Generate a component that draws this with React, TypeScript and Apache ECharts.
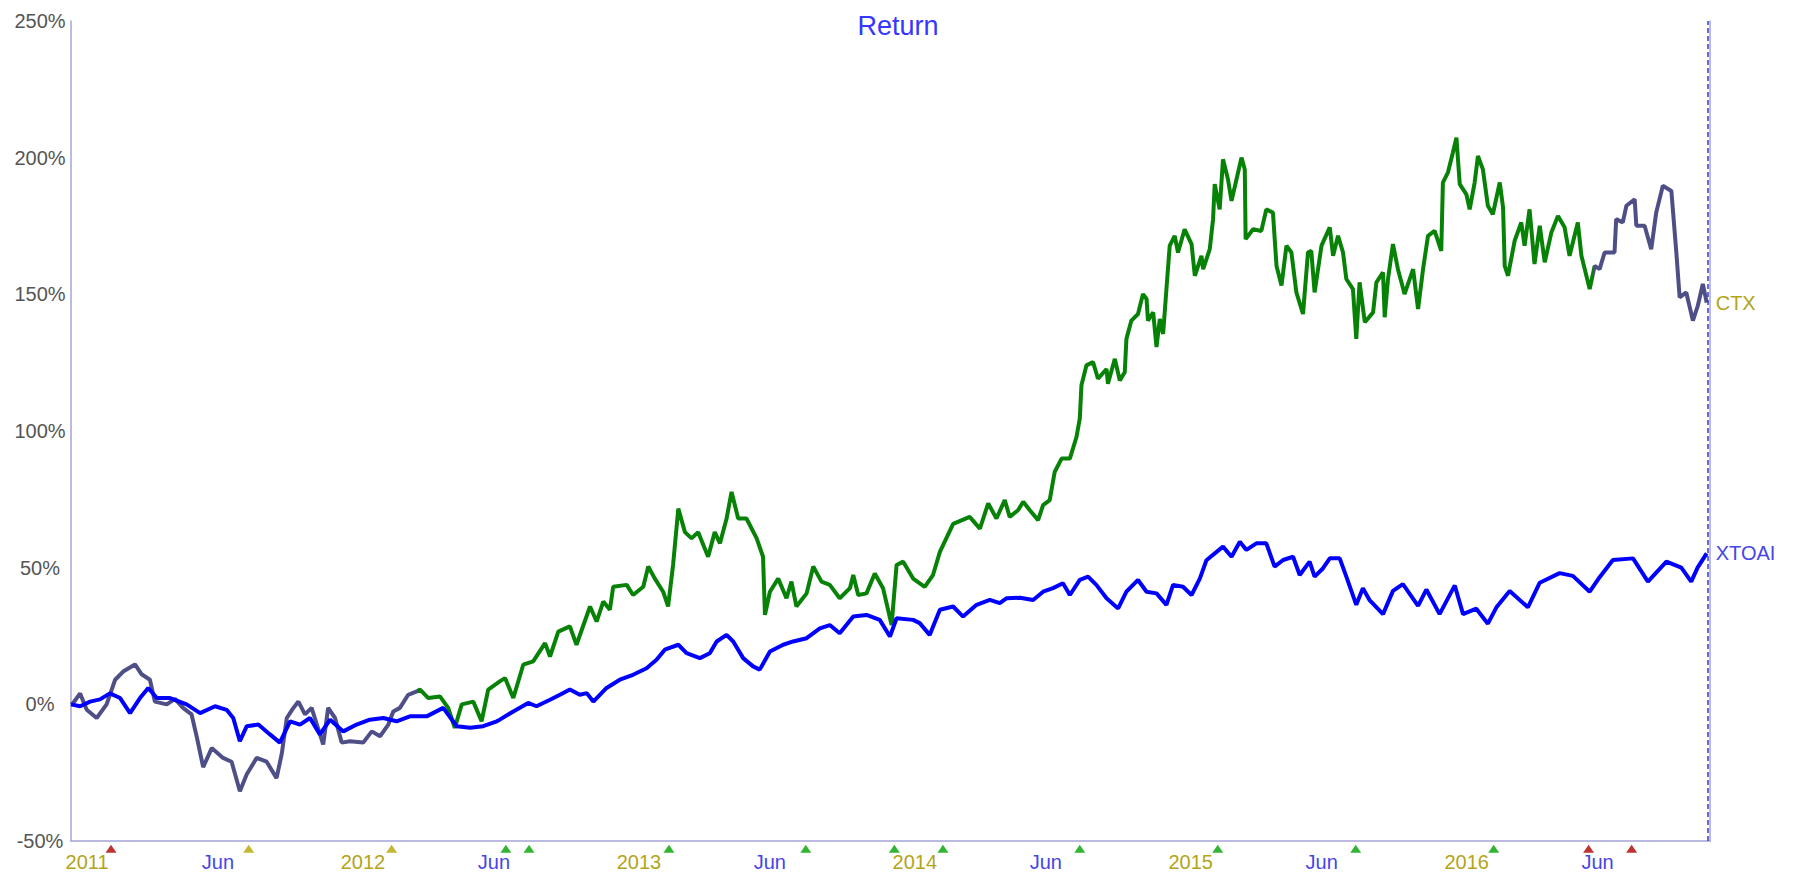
import React, { useEffect, useRef } from "react";
import * as echarts from "echarts";

// ---- data (x = decimal year, y = return in %) ----
const ctxT = [
  2011.018, 2011.026, 2011.051, 2011.075, 2011.111, 2011.147, 2011.178, 2011.207, 2011.25, 2011.274,
  2011.304, 2011.322, 2011.365, 2011.395, 2011.424, 2011.455, 2011.474, 2011.497, 2011.528, 2011.569,
  2011.6, 2011.63, 2011.655, 2011.691, 2011.727, 2011.763, 2011.782, 2011.8, 2011.824, 2011.842,
  2011.866, 2011.89, 2011.932, 2011.95, 2011.975, 2011.999, 2012.029, 2012.077, 2012.108, 2012.138,
  2012.168, 2012.186, 2012.21, 2012.24, 2012.271, 2012.283, 2012.313, 2012.355, 2012.385, 2012.409,
  2012.434, 2012.476, 2012.506, 2012.53, 2012.572, 2012.591, 2012.621, 2012.657, 2012.693, 2012.736,
  2012.754, 2012.784, 2012.826, 2012.85, 2012.899, 2012.923, 2012.947, 2012.971, 2012.983, 2013.032,
  2013.055, 2013.092, 2013.11, 2013.134, 2013.164, 2013.182, 2013.2, 2013.219, 2013.243, 2013.267,
  2013.291, 2013.327, 2013.351, 2013.37, 2013.394, 2013.412, 2013.436, 2013.466, 2013.503, 2013.526,
  2013.533, 2013.551, 2013.581, 2013.611, 2013.629, 2013.647, 2013.684, 2013.708, 2013.738, 2013.768,
  2013.804, 2013.841, 2013.853, 2013.871, 2013.901, 2013.931, 2013.961, 2013.992, 2014.01, 2014.034,
  2014.07, 2014.112, 2014.142, 2014.167, 2014.215, 2014.275, 2014.312, 2014.342, 2014.372, 2014.402,
  2014.42, 2014.45, 2014.469, 2014.493, 2014.523, 2014.541, 2014.565, 2014.583, 2014.608, 2014.638,
  2014.662, 2014.674, 2014.68, 2014.698, 2014.722, 2014.74, 2014.771, 2014.776, 2014.801, 2014.819,
  2014.837, 2014.843, 2014.861, 2014.885, 2014.903, 2014.916, 2014.921, 2014.94, 2014.952, 2014.964,
  2014.976, 2014.988, 2015.0, 2015.018, 2015.03, 2015.054, 2015.079, 2015.091, 2015.115, 2015.121,
  2015.145, 2015.157, 2015.163, 2015.181, 2015.193, 2015.211, 2015.224, 2015.242, 2015.26, 2015.272,
  2015.275, 2015.302, 2015.332, 2015.35, 2015.374, 2015.387, 2015.405, 2015.423, 2015.441, 2015.459,
  2015.483, 2015.501, 2015.513, 2015.525, 2015.55, 2015.58, 2015.592, 2015.61, 2015.628, 2015.64,
  2015.664, 2015.676, 2015.688, 2015.707, 2015.737, 2015.749, 2015.773, 2015.779, 2015.791, 2015.809,
  2015.827, 2015.851, 2015.882, 2015.9, 2015.918, 2015.936, 2015.96, 2015.984, 2015.99, 2016.008,
  2016.026, 2016.039, 2016.051, 2016.075, 2016.087, 2016.105, 2016.117, 2016.135, 2016.153, 2016.171,
  2016.196, 2016.208, 2016.214, 2016.226, 2016.25, 2016.274, 2016.286, 2016.304, 2016.322, 2016.341,
  2016.359, 2016.383, 2016.407, 2016.431, 2016.449, 2016.479, 2016.492, 2016.522, 2016.54, 2016.558,
  2016.576, 2016.612, 2016.618, 2016.642, 2016.655, 2016.685, 2016.691, 2016.721, 2016.745, 2016.763,
  2016.787, 2016.818, 2016.836, 2016.848, 2016.872, 2016.896, 2016.914, 2016.932, 2016.946,
];
const ctxV = [
  0, 0.5, 4, -2, -5, 0, 9, 12, 14.6, 11,
  9, 1, 0, 2, -1.3, -3.7, -12, -23, -16, -19.6,
  -21, -31.8, -25.6, -19.6, -21, -27, -18, -5, -1.3, 1,
  -3.7, -1.3, -14.7, -1.3, -5, -14, -13.5, -14, -9.9, -11.7,
  -7.4, -2.6, -1.3, 3.5, 4.7, 5.4, 2.3, 2.9, -1.3, -8.6,
  0, 1, -6.2, 5.4, 8.4, 9.6, 2.3, 14.5, 15.7, 22.4,
  17.5, 26.6, 28.5, 21.8, 35.8, 30.3, 37.6, 34.6, 43, 43.7,
  40, 43, 50.4, 46, 41.2, 35.8, 51, 71.6, 63, 60.7,
  63, 54, 63, 58.9, 68, 77.7, 68, 68, 60.7, 54,
  32.7, 41.2, 46, 38.8, 44.9, 35.8, 40.6, 50.4, 44.9, 43.7,
  38.8, 42.5, 47.3, 40, 40.6, 47.9, 42.5, 29, 51, 52.2,
  46, 43, 47.3, 55.8, 66, 68.6, 64.3, 73.5, 68, 74.7,
  68.6, 71, 74.1, 71, 67.4, 72.9, 74.7, 85, 89.9, 89.9,
  97.8, 104.5, 116.7, 124, 125.2, 119.1, 122.7, 117.3, 126.4, 118.5,
  121.5, 133.7, 140.4, 142.8, 150.1, 148.3, 140.4, 143.4, 130.7, 141,
  135.5, 151.9, 167.8, 171.4, 165.3, 173.8, 168.4, 156.8, 164.1, 159.2,
  166.5, 177.5, 190.3, 181.1, 199.4, 192.1, 184.2, 192.1, 200, 195.7,
  170.2, 173.8, 173.2, 181.1, 179.9, 160.4, 153.2, 167.8, 165.3, 150.7,
  142.8, 165.3, 165.9, 150.7, 167.8, 174.5, 164.1, 171.4, 165.3, 155.6,
  151.9, 133.7, 154.4, 139.8, 143.4, 154.4, 158, 141.6, 155.6, 168.4,
  159.2, 150.1, 159.2, 144.6, 159.2, 171.4, 173.2, 165.9, 190.9, 194.5,
  201.8, 207.3, 190.3, 186.6, 181.1, 190.9, 200.6, 195.7, 182.4, 179.3,
  190.9, 181.8, 160.4, 156.8, 169.6, 176.3, 167.8, 181.1, 161.1, 175.1,
  161.7, 172.6, 178.7, 174.5, 164.1, 176.3, 164.1, 151.9, 160.4, 159.2,
  165.3, 165.3, 177.5, 176.3, 182.4, 184.8, 175.1, 175.1, 166.5, 179.9,
  189.7, 187.8, 165.3, 148.9, 150.7, 140.4, 145.9, 153.8, 147,
];

const xtoaiT = [
  2011.018, 2011.051, 2011.087, 2011.123, 2011.159, 2011.196, 2011.232, 2011.268, 2011.298, 2011.329,
  2011.377, 2011.437, 2011.486, 2011.54, 2011.582, 2011.606, 2011.63, 2011.655, 2011.697, 2011.739,
  2011.775, 2011.812, 2011.848, 2011.884, 2011.92, 2011.957, 2012.005, 2012.053, 2012.101, 2012.15,
  2012.198, 2012.246, 2012.307, 2012.367, 2012.416, 2012.464, 2012.512, 2012.561, 2012.572, 2012.621,
  2012.675, 2012.705, 2012.754, 2012.79, 2012.826, 2012.862, 2012.887, 2012.911, 2012.959, 2013.007,
  2013.055, 2013.104, 2013.14, 2013.17, 2013.219, 2013.249, 2013.297, 2013.333, 2013.358, 2013.394,
  2013.418, 2013.454, 2013.49, 2013.514, 2013.551, 2013.599, 2013.635, 2013.684, 2013.732, 2013.768,
  2013.804, 2013.853, 2013.901, 2013.949, 2013.986, 2014.01, 2014.07, 2014.094, 2014.13, 2014.167,
  2014.215, 2014.251, 2014.3, 2014.348, 2014.384, 2014.408, 2014.457, 2014.505, 2014.541, 2014.577,
  2014.613, 2014.638, 2014.674, 2014.704, 2014.734, 2014.771, 2014.813, 2014.843, 2014.885, 2014.916,
  2014.952, 2014.988, 2015.012, 2015.048, 2015.079, 2015.109, 2015.133, 2015.193, 2015.224, 2015.254,
  2015.278, 2015.314, 2015.35, 2015.38, 2015.411, 2015.447, 2015.471, 2015.507, 2015.525, 2015.555,
  2015.58, 2015.616, 2015.64, 2015.676, 2015.7, 2015.725, 2015.773, 2015.809, 2015.845, 2015.9,
  2015.93, 2015.978, 2016.033, 2016.063, 2016.111, 2016.153, 2016.184, 2016.232, 2016.298, 2016.341,
  2016.413, 2016.461, 2016.522, 2016.558, 2016.606, 2016.679, 2016.733, 2016.8, 2016.854, 2016.89,
  2016.913, 2016.946,
];
const xtoaiV = [
  0, -0.7, 1, 1.8, 4, 2.3, -3.2, 2.3, 6, 2.3,
  2.3, 0, -3.2, -0.7, -2, -5, -13.5, -8, -7.4, -11,
  -14, -6.2, -7.4, -5, -11, -5.6, -9.9, -7.4, -5.6, -5,
  -6.2, -4.4, -4.4, -1.3, -8, -8.6, -8, -6.2, -5.6, -2.6,
  0.5, -0.7, 1.7, 3.5, 5.4, 3.5, 4.1, 1, 6, 9,
  10.8, 13.2, 16.3, 20, 21.8, 18.7, 16.9, 18.7, 23, 25.4,
  23, 16.9, 13.9, 12.7, 19.3, 21.8, 23, 24.2, 27.8, 29,
  26, 32.1, 32.7, 30.9, 24.8, 31.5, 30.9, 29.7, 25.4, 34.6,
  35.8, 32.1, 36.4, 38.2, 37, 38.8, 39, 38.2, 41.2, 42.5,
  44.3, 40, 45.5, 46.7, 43.7, 38.8, 35.1, 41.2, 45.5, 41.2,
  40.6, 36.4, 43.7, 43, 40, 46, 52.7, 57.7, 54, 59.5,
  56.5, 58.9, 58.9, 50.4, 52.8, 54, 47.3, 52.2, 46.7, 49.7,
  53.4, 53.4, 46.7, 36.4, 42.5, 38, 33, 41.5, 44, 36,
  42, 33, 43.5, 33, 35, 29.5, 35.5, 41.5, 35.5, 44.5,
  48, 47, 41.2, 46.5, 52.8, 53.4, 44.9, 52.2, 50, 44.9,
  50, 55.2,
];

// rating periods of CTX line colour
const ctxGreenFrom = 2012.271;
const ctxGreenTo = 2016.536;

// event markers under the x axis
const eventT = [
  2011.163, 2011.662, 2012.18, 2012.594, 2012.678, 2013.185, 2013.681, 2014.002, 2014.178,
  2014.674, 2015.174, 2015.674, 2016.174, 2016.518, 2016.674,
];
const eventKind = [
  "red", "olive", "olive", "green", "green", "green", "green", "green", "green",
  "green", "green", "green", "green", "red", "red",
];

const yearLabels = [2011, 2012, 2013, 2014, 2015, 2016];
const midYearLabel = "Jun";
const xMin = 2011.018;
const xMax = 2016.958;

const FONT = 'Arial, "Liberation Sans", Helvetica, sans-serif';
const C = {
  gray: "#4f4f88",
  green: "#078207",
  blue: "#0000ff",
  axis: "#a4a4d8",
  yLabel: "#555555",
  year: "#b3a41a",
  month: "#4646e6",
  title: "#3636ff",
  red: "#b00000",
  olive: "#b5a600",
  evGreen: "#00a300",
};

export default function App() {
  const ref = useRef<HTMLDivElement>(null);

  useEffect(() => {
    if (!ref.current) return;
    const chart = echarts.init(ref.current, null, { renderer: "svg" });

    const gridLeft = 71;
    const gridRight = 86;
    const plotW = 1796 - gridLeft - gridRight;
    const pxPerYear = plotW / (xMax - xMin);
    const yearCenter = 21 / pxPerYear;
    const monthCenter = 0.5 + 14 / pxPerYear;

    const labelMap: Record<string, string> = {};
    const labelValues: number[] = [];
    yearLabels.forEach((y) => {
      const a = +(y + yearCenter).toFixed(4);
      labelMap[a.toFixed(4)] = `{y|${y}}`;
      labelValues.push(a);
      const b = +(y + monthCenter).toFixed(4);
      if (b < xMax) {
        labelMap[b.toFixed(4)] = `{m|${midYearLabel}}`;
        labelValues.push(b);
      }
    });

    const kindColor: Record<string, string> = { red: C.red, olive: C.olive, green: C.evGreen };
    const markerLevel = -52.8;

    const option: any = {
      animation: false,
      textStyle: { fontFamily: FONT },
      title: {
        text: "Return",
        left: 893,
        top: 7,
        textAlign: "center",
        textStyle: { fontSize: 27, fontWeight: "normal", color: C.title, fontFamily: FONT },
      },
      grid: { left: gridLeft, right: gridRight, top: 21, bottom: 34 },
      xAxis: {
        type: "value",
        min: xMin,
        max: xMax,
        splitLine: { show: false },
        axisLine: { show: true, onZero: false, lineStyle: { color: C.axis, width: 1.5 } },
        axisTick: { show: false },
        axisLabel: {
          customValues: labelValues,
          margin: 11,
          fontSize: 20,
          formatter: (v: number) => labelMap[(+v).toFixed(4)] || "",
          rich: {
            y: { color: C.year, fontSize: 20, fontFamily: FONT },
            m: { color: C.month, fontSize: 20, fontFamily: FONT },
          },
        },
      },
      yAxis: [
        {
          type: "value",
          min: -50,
          max: 250,
          interval: 50,
          splitLine: { show: false },
          axisLine: { show: true, lineStyle: { color: C.axis, width: 1.5 } },
          axisTick: { show: false },
          axisLabel: {
            formatter: "{value}%",
            color: C.yLabel,
            fontSize: 20,
            margin: 31,
            align: "center",
            fontFamily: FONT,
          },
        },
        {
          type: "value",
          position: "right",
          min: -50,
          max: 250,
          interval: 50,
          splitLine: { show: false },
          axisLine: { show: true, lineStyle: { color: C.axis, width: 1.5 } },
          axisTick: { show: false },
          axisLabel: { show: false },
        },
      ],
      visualMap: {
        type: "piecewise",
        show: false,
        dimension: 0,
        seriesIndex: 0,
        pieces: [
          { lt: ctxGreenFrom, color: C.gray },
          { gte: ctxGreenFrom, lt: ctxGreenTo, color: C.green },
          { gte: ctxGreenTo, color: C.gray },
        ],
      },
      series: [
        {
          name: "CTX",
          type: "line",
          data: ctxT.map((t, i) => [t, ctxV[i]]),
          showSymbol: false,
          symbol: "none",
          lineStyle: { width: 4 },
          z: 2,
          endLabel: {
            show: true,
            formatter: "CTX",
            color: C.year,
            fontSize: 20,
            distance: 9,
            fontFamily: FONT,
          },
        },
        {
          name: "XTOAI",
          type: "line",
          data: xtoaiT.map((t, i) => [t, xtoaiV[i]]),
          showSymbol: false,
          symbol: "none",
          lineStyle: { width: 4, color: C.blue },
          itemStyle: { color: C.blue },
          z: 3,
          endLabel: {
            show: true,
            formatter: "XTOAI",
            color: C.month,
            fontSize: 20,
            distance: 9,
            fontFamily: FONT,
          },
          markLine: {
            silent: true,
            symbol: "none",
            label: { show: false },
            lineStyle: { type: [5, 3], color: "#3a3ad6", width: 1.5 },
            data: [{ xAxis: xtoaiT[xtoaiT.length - 1] }],
          },
        },
        {
          name: "events",
          type: "scatter",
          symbol: "triangle",
          symbolSize: [11, 8],
          clip: false,
          z: 5,
          data: eventT.map((t, i) => ({
            value: [t, markerLevel],
            itemStyle: { color: kindColor[eventKind[i]] },
          })),
        },
      ],
    };

    chart.setOption(option);
    return () => chart.dispose();
  }, []);

  return (
    <div
      ref={ref}
      style={{ position: "fixed", left: 0, top: 0, width: 1796, height: 875, background: "#fff" }}
    />
  );
}
